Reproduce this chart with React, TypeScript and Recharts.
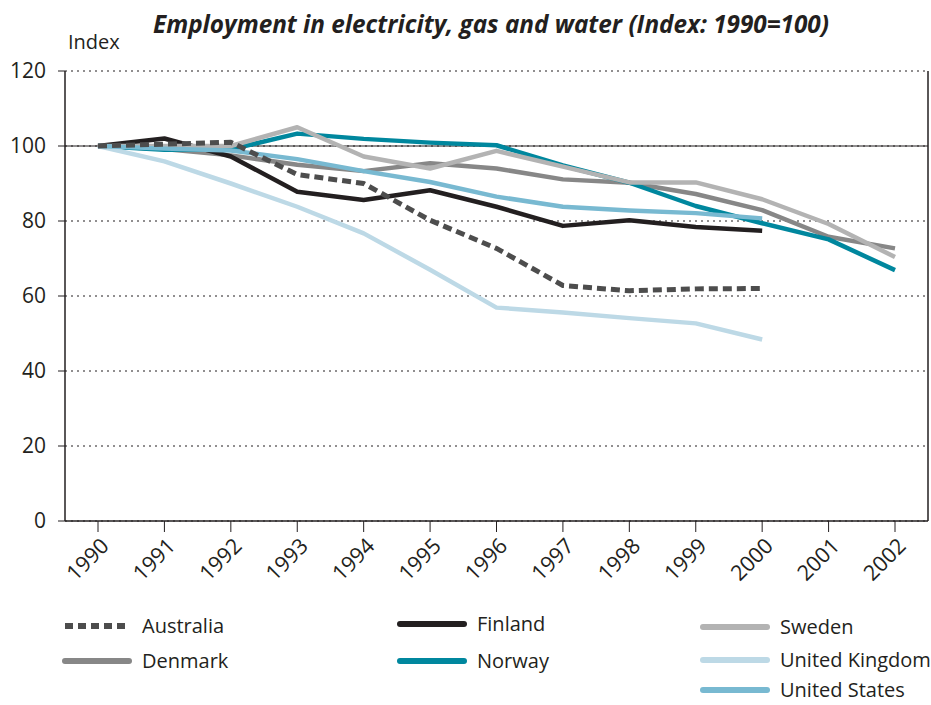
import { CartesianGrid, Line, LineChart, ReferenceLine, XAxis, YAxis } from "recharts"

const years = ["1990", "1991", "1992", "1993", "1994", "1995", "1996", "1997", "1998", "1999", "2000", "2001", "2002"]
const yTicks = [0, 20, 40, 60, 80, 100, 120]

const australia = [100, 100.5, 101, 92.4, 90, 80.2, 72.7, 62.8, 61.4, 61.9, 62, null, null]
const denmark = [100, 99.2, 97.5, 95, 93.3, 95.4, 94, 91.1, 90.2, 87.2, 82.9, 75.8, 72.7]
const finland = [100, 102, 97.2, 87.8, 85.6, 88.2, 83.8, 78.7, 80.2, 78.4, 77.4, null, null]
const norway = [100, 99, 99.1, 103.3, 101.9, 100.9, 100.2, 94.8, 90.2, 84, 79.4, 75.1, 66.9]
const sweden = [100, 100, 100, 105, 97.2, 94, 98.7, 94.5, 90.3, 90.3, 85.8, 79.2, 70.4]
const uk = [100, 95.9, 90, 83.8, 76.7, 67, 56.9, 55.6, 54.1, 52.7, 48.4, null, null]
const us = [100, 99.3, 98.8, 96.5, 93.3, 90.4, 86.5, 83.8, 82.8, 82.1, 80.7, null, null]

const series = [
  { key: "denmark", name: "Denmark", values: denmark, color: "#878787", dash: undefined },
  { key: "finland", name: "Finland", values: finland, color: "#231f20", dash: undefined },
  { key: "norway", name: "Norway", values: norway, color: "#00879e", dash: undefined },
  { key: "sweden", name: "Sweden", values: sweden, color: "#b3b3b3", dash: undefined },
  { key: "uk", name: "United Kingdom", values: uk, color: "#bdd9e6", dash: undefined },
  { key: "us", name: "United States", values: us, color: "#78b9d1", dash: undefined },
  { key: "australia", name: "Australia", values: australia, color: "#4d4d4d", dash: "9 5" },
]

// legend slots (sample start x, row y)
const legendPos: Record<string, [number, number]> = {
  australia: [65, 626],
  denmark: [65, 661],
  finland: [400, 624],
  norway: [400, 661],
  sweden: [703, 627],
  uk: [703, 660],
  us: [703, 690],
}

const data = years.map((y, i) => {
  const row: Record<string, any> = { year: y }
  series.forEach((s) => (row[s.key] = s.values[i]))
  return row
})

const labelFont = "'Open Sans', sans-serif"

function YearTick(props: any) {
  const { x, y, payload } = props
  return (
    <text
      transform={`translate(${x + 7},${y + 8}) rotate(-45)`}
      textAnchor="end"
      dy="0.35em"
      fontFamily={labelFont}
      fontSize={21.5}
      fill="#231f20"
    >
      {payload.value}
    </text>
  )
}

export default function App() {
  return (
    <div style={{ position: "absolute", left: 0, top: 0, width: 931, height: 705, background: "#fff", overflow: "hidden" }}>
      <div
        style={{
          position: "absolute",
          top: 9,
          left: 0,
          width: 982,
          textAlign: "center",
          fontFamily: "'Open Sans', sans-serif",
          fontStyle: "italic",
          fontWeight: 700,
          fontSize: 24.3,
          lineHeight: "30px",
          color: "#231f20",
        }}
      >
        Employment in electricity, gas and water (Index: 1990=100)
      </div>
      <div
        style={{ position: "absolute", left: 68, top: 28, fontFamily: labelFont, fontSize: 20, lineHeight: "28px", color: "#231f20" }}
      >
        Index
      </div>
      <LineChart width={931} height={705} data={data} margin={{ top: 71, right: 0, bottom: 0, left: 0 }}>
        <CartesianGrid vertical={false} stroke="#231f20" strokeDasharray="2 4" />
        <XAxis
          dataKey="year"
          padding={{ left: 33, right: 33 }}
          tickSize={11}
          tick={<YearTick />}
          axisLine={{ stroke: "#231f20", strokeWidth: 1.5 }}
          tickLine={{ stroke: "#231f20" }}
          interval={0}
          height={184}
        />
        <YAxis
          domain={[0, 120]}
          ticks={yTicks}
          width={65}
          tickSize={7}
          tickMargin={12}
          axisLine={{ stroke: "#231f20", strokeWidth: 1.5 }}
          tickLine={{ stroke: "#231f20" }}
          tick={{ fontFamily: labelFont, fontSize: 21, fill: "#231f20" }}
        />
        <YAxis yAxisId="right" orientation="right" width={3} tick={false} tickLine={false} axisLine={{ stroke: "#231f20", strokeWidth: 1.5 }} />
        <ReferenceLine y={100} stroke="#231f20" strokeWidth={1} />
        {series.map((s) => (
          <Line
            key={s.key}
            dataKey={s.key}
            name={s.name}
            stroke={s.color}
            strokeWidth={s.dash ? 5 : 4.5}
            strokeDasharray={s.dash}
            strokeLinejoin="round"
            dot={false}
            activeDot={false}
            isAnimationActive={false}
          />
        ))}
      </LineChart>
      {series.map((s) => {
        const [lx, ly] = legendPos[s.key]
        return (
          <div key={s.key}>
            <svg style={{ position: "absolute", left: lx - 4, top: ly - 6 }} width={74} height={12}>
              <line
                x1={4}
                y1={6}
                x2={68}
                y2={6}
                stroke={s.color}
                strokeWidth={6}
                strokeLinecap={s.dash ? "butt" : "round"}
                strokeDasharray={s.dash ? "8 5" : undefined}
              />
            </svg>
            <div
              style={{
                position: "absolute",
                left: lx + 77,
                top: ly - 9,
                fontFamily: labelFont,
                fontSize: 20,
                lineHeight: "18px",
                color: "#231f20",
                whiteSpace: "nowrap",
              }}
            >
              {s.name}
            </div>
          </div>
        )
      })}
    </div>
  )
}
